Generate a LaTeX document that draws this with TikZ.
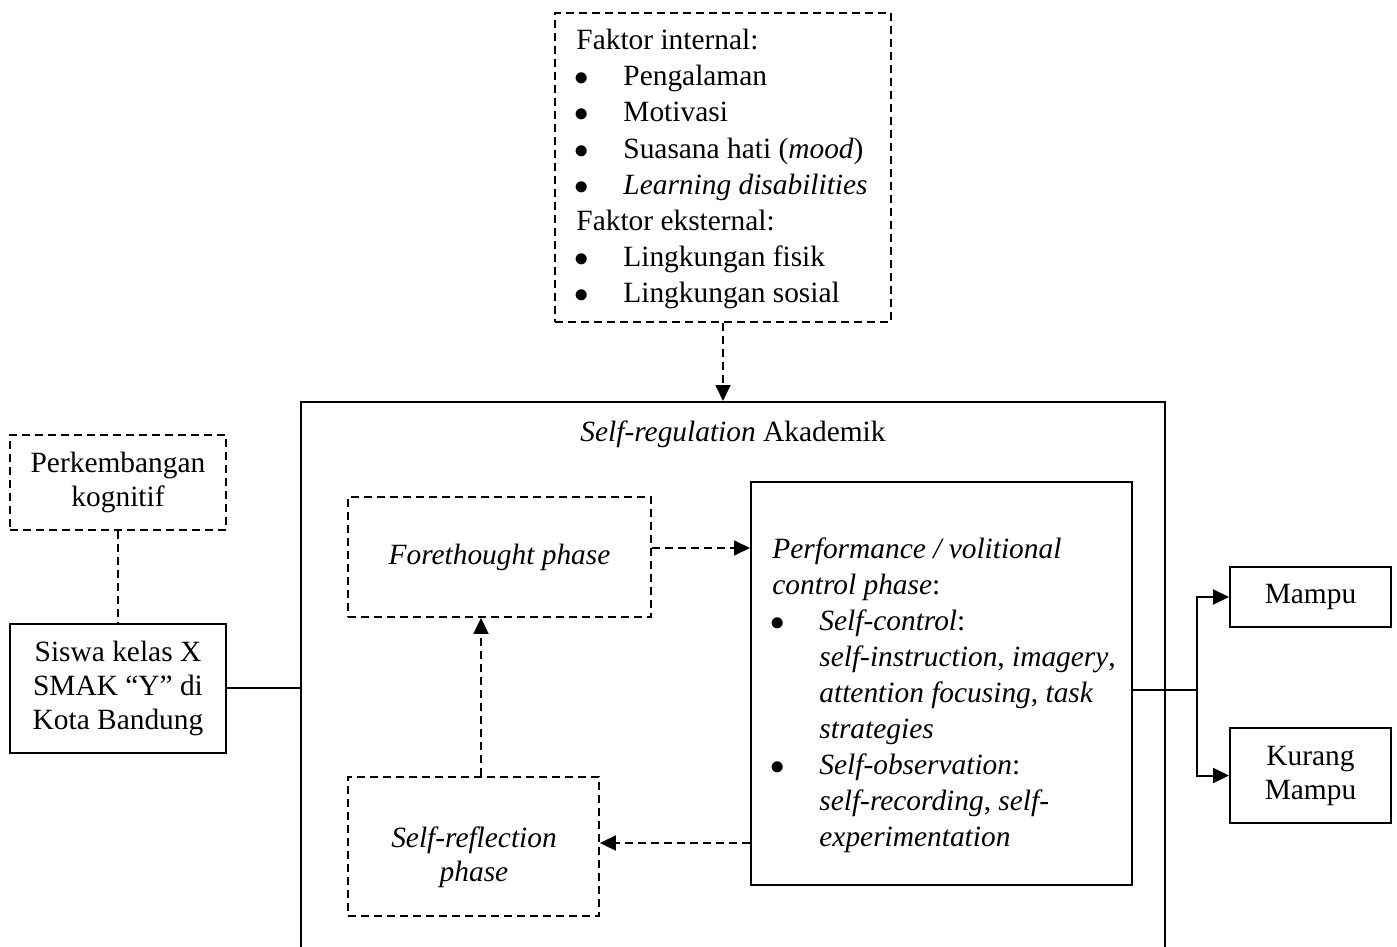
\documentclass[tikz,border=0pt]{standalone}
\usepackage{fontspec}
\setmainfont{Liberation Serif}
\usetikzlibrary{arrows.meta}
\tikzset{
  box/.style={draw, line width=1pt, rectangle, inner sep=0pt, align=center},
  dbox/.style={box, line width=0.9pt, dash pattern=on 4pt off 2.5pt},
  txt/.style={inner sep=0pt, anchor=base west},
  bul/.style={inner sep=0pt, anchor=base},
  conn/.style={line width=1pt},
  dconn/.style={line width=0.9pt, dash pattern=on 4pt off 2.5pt},
  tip/.style={-{Triangle[length=8pt,width=7.5pt]}}
}
\begin{document}
\begin{tikzpicture}[x=0.5pt, y=-0.5pt, font=\fontsize{14.7}{17}\selectfont]
\useasboundingbox (0,0) rectangle (1397,947);
\clip (0,0) rectangle (1397,947);

% boxes
\node[dbox, minimum width=168pt, minimum height=154.5pt] (top) at (723,167.5) {};
\node[box, minimum width=432pt, minimum height=289pt] (main) at (733,691) {};
\node[dbox, minimum width=108pt, minimum height=47.5pt] (perk) at (118,482.5) {Perkembangan\\kognitif};
\node[box, minimum width=108pt, minimum height=64.5pt] (siswa) at (118,688) {Siswa kelas X\\SMAK \textquotedblleft Y\textquotedblright\ di\\Kota Bandung};
\node[dbox, minimum width=151.5pt, minimum height=60pt] (fore) at (499.5,557) {\textit{Forethought phase}};
\node[dbox, minimum width=125.5pt, minimum height=69.5pt] (refl) at (473.5,846.5) {};
\node[inner sep=0pt, align=center] (refltxt) at (474,857) {\textit{Self-reflection}\\\textit{phase}};
\node[box, minimum width=190.5pt, minimum height=201.5pt] (perf) at (941.5,683.5) {};
\node[box, minimum width=80.5pt, minimum height=30pt] (mampu) at (1310.5,597) {Mampu};
\node[box, minimum width=80.5pt, minimum height=47.5pt] (kurang) at (1310.5,775.5) {Kurang\\Mampu};

% title
\node[inner sep=0pt, anchor=base] (title) at (733,441) {\textit{Self-regulation} Akademik};

% top box text
\node[txt] (fi) at (576,50) {Faktor internal:};
\node[bul] (b1) at (582,86) {$\bullet$};
\node[txt] (i1) at (623,86) {Pengalaman};
\node[bul] (b2) at (582,122) {$\bullet$};
\node[txt] (i2) at (623,122) {Motivasi};
\node[bul] (b3) at (582,158) {$\bullet$};
\node[txt] (i3) at (623,158) {Suasana hati (\textit{mood})};
\node[bul] (b4) at (582,194) {$\bullet$};
\node[txt] (i4) at (623,194) {\textit{Learning disabilities}};
\node[txt] (fe) at (576,230) {Faktor eksternal:};
\node[bul] (b5) at (582,266) {$\bullet$};
\node[txt] (i5) at (623,266) {Lingkungan fisik};
\node[bul] (b6) at (582,302) {$\bullet$};
\node[txt] (i6) at (623,302) {Lingkungan sosial};

% performance box text
\node[txt] (p1) at (772,558) {\textit{Performance / volitional}};
\node[txt] (p2) at (772,594) {\textit{control phase}:};
\node[bul] (pb1) at (778,630) {$\bullet$};
\node[txt] (p3) at (819,630) {\textit{Self-control}:};
\node[txt] (p4) at (819,666) {\textit{self-instruction}, \textit{imagery},};
\node[txt] (p5) at (819,702) {\textit{attention focusing}, \textit{task}};
\node[txt] (p6) at (819,738) {\textit{strategies}};
\node[bul] (pb2) at (778,774) {$\bullet$};
\node[txt] (p7) at (819,774) {\textit{Self-observation}:};
\node[txt] (p8) at (819,810) {\textit{self-recording}, \textit{self-}};
\node[txt] (p9) at (819,846) {\textit{experimentation}};

% connectors
\coordinate (vx) at (481,0);
\coordinate (hf) at (0,548);
\coordinate (hr) at (0,843);
\coordinate (br) at (1197,690);

\draw[dconn, tip] (top.south) -- (top.south |- main.north);
\draw[dconn] (perk.south) -- (siswa.north);
\draw[conn] (siswa.east) -- (main.west |- siswa.east);
\draw[dconn, tip] (fore.east |- hf) -- (perf.west |- hf);
\draw[dconn, tip] (refl.north -| vx) -- (fore.south -| vx);
\draw[dconn, tip] (perf.west |- hr) -- (refl.east |- hr);
\draw[conn] (perf.east |- br) -- (br);
\draw[conn, tip] (br) |- (mampu.west);
\draw[conn, tip] (br) |- (kurang.west);
\end{tikzpicture}
\end{document}
